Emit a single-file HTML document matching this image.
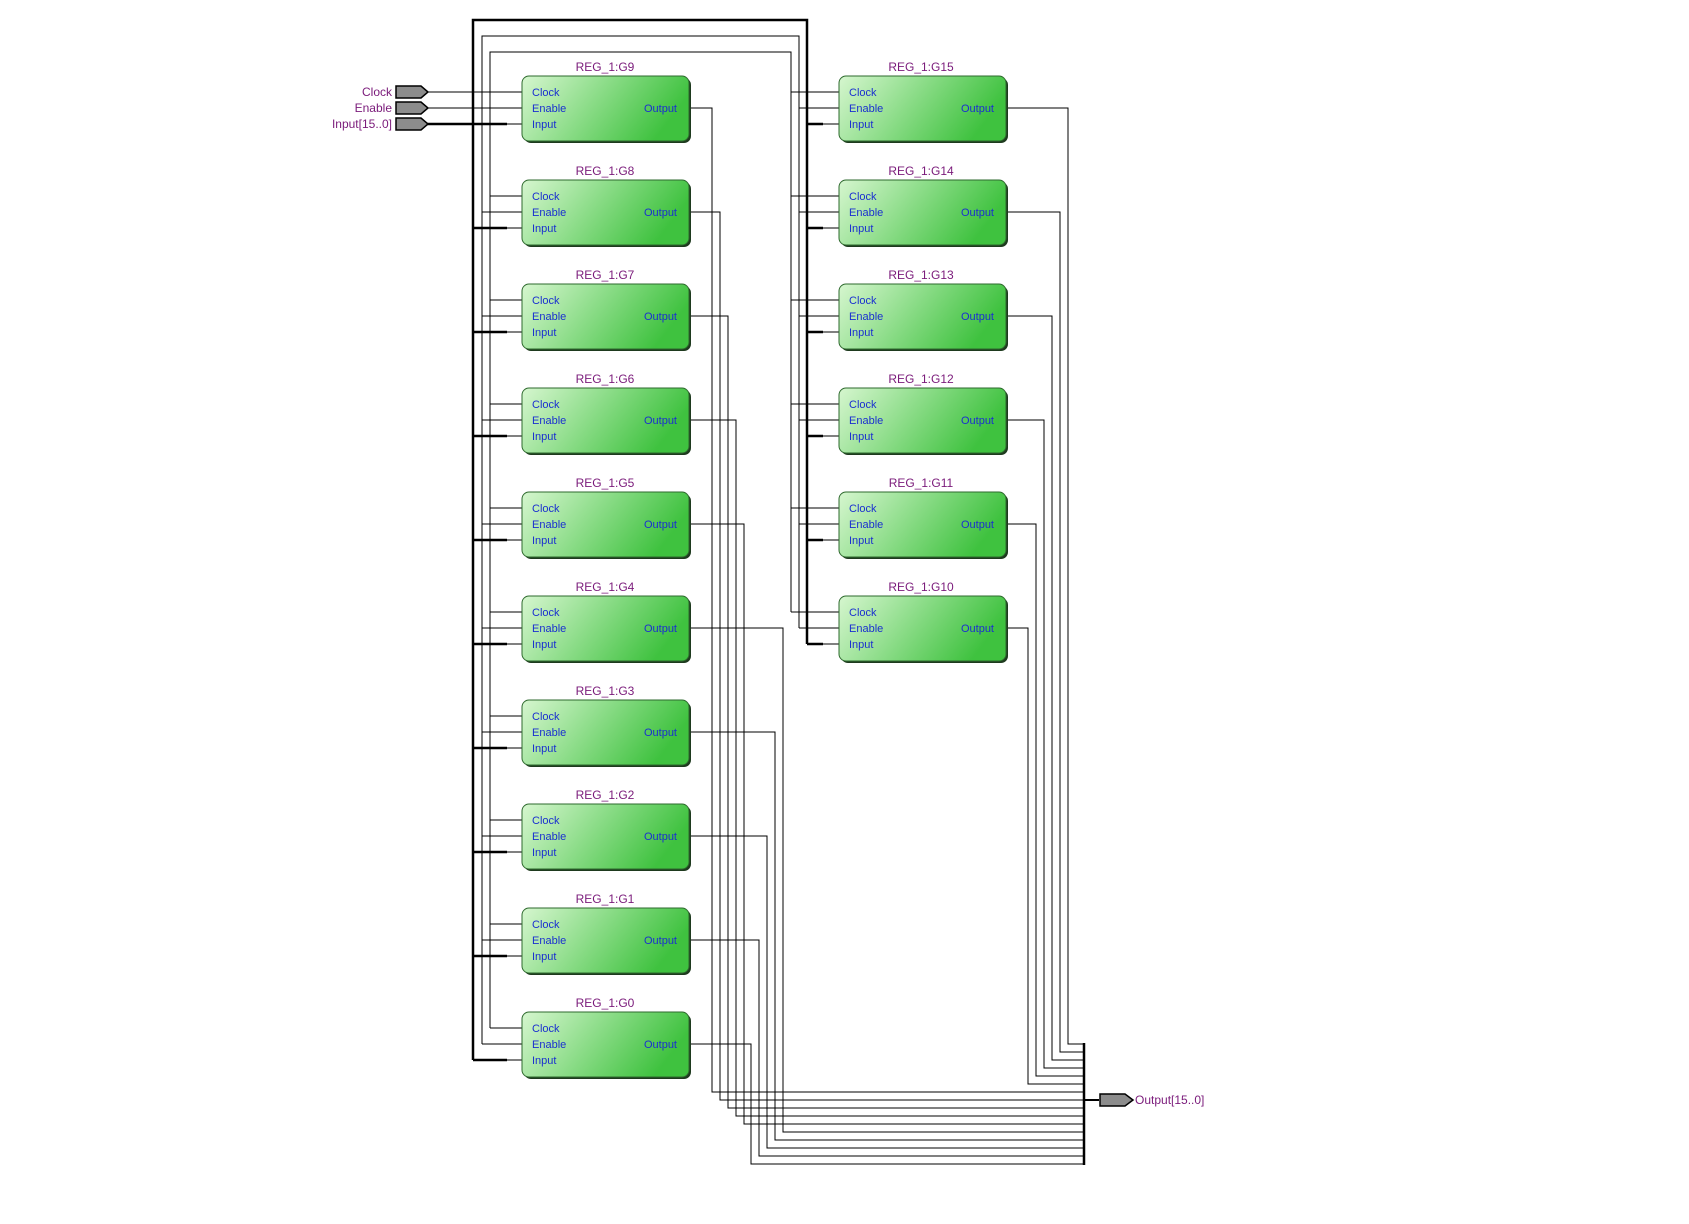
<!DOCTYPE html>
<html><head><meta charset="utf-8"><style>
body{margin:0;background:#fff}
svg{display:block}
.t{font-family:"Liberation Sans",sans-serif;font-size:11px;fill:#1a2fd0}
.h{font-family:"Liberation Sans",sans-serif;font-size:12px;fill:#7a1a7a}
</style></head><body>
<svg width="1689" height="1224" viewBox="0 0 1689 1224" xmlns="http://www.w3.org/2000/svg">
<defs>
<linearGradient id="g" x1="0" y1="0" x2="1" y2="0.3">
<stop offset="0" stop-color="#d6f6cf"/><stop offset="1" stop-color="#3fc23f"/>
</linearGradient>
<g id="box">
<rect x="2" y="2" width="167" height="65" rx="7" fill="#1e3a1e"/>
<rect x="0" y="0" width="167" height="65" rx="7" fill="url(#g)" stroke="#2e6a2e" stroke-width="1"/>
<text class="t" x="10" y="20">Clock</text>
<text class="t" x="10" y="36">Enable</text>
<text class="t" x="10" y="52">Input</text>
<text class="t" x="155" y="36" text-anchor="end">Output</text>
</g>
</defs>
<g fill="none" stroke="#000" stroke-width="1">
<!-- bus loops -->
<path d="M473 1060V20H807V644" stroke-width="2.5"/>
<path d="M482 1044V36H799V628"/>
<path d="M490 1028V52H791V612"/>
<!-- ports -->
<path d="M427 92H522M427 108H522"/>
<path d="M427 124H507" stroke-width="2.5"/><path d="M507 124H522"/>
<!-- left stubs -->
<path d="M490 196H522M482 212H522M507 228H522M490 300H522M482 316H522M507 332H522M490 404H522M482 420H522M507 436H522M490 508H522M482 524H522M507 540H522M490 612H522M482 628H522M507 644H522M490 716H522M482 732H522M507 748H522M490 820H522M482 836H522M507 852H522M490 924H522M482 940H522M507 956H522M490 1028H522M482 1044H522M507 1060H522"/>
<path d="M473 228H507M473 332H507M473 436H507M473 540H507M473 644H507M473 748H507M473 852H507M473 956H507M473 1060H507" stroke-width="2.5"/>
<!-- right stubs -->
<path d="M791 92H839M799 108H839M823 124H839M791 196H839M799 212H839M823 228H839M791 300H839M799 316H839M823 332H839M791 404H839M799 420H839M823 436H839M791 508H839M799 524H839M823 540H839M791 612H839M799 628H839M823 644H839"/>
<path d="M807 124H823M807 228H823M807 332H823M807 436H823M807 540H823M807 644H823" stroke-width="2.5"/>
<!-- left outputs -->
<path d="M689 108H712V1092H1084"/>
<path d="M689 212H720V1100H1084"/>
<path d="M689 316H728V1108H1084"/>
<path d="M689 420H736V1116H1084"/>
<path d="M689 524H744V1124H1084"/>
<path d="M689 628H783V1132H1084"/>
<path d="M689 732H775V1140H1084"/>
<path d="M689 836H767V1148H1084"/>
<path d="M689 940H759V1156H1084"/>
<path d="M689 1044H751V1164H1084"/>
<!-- right outputs -->
<path d="M1006 108H1068V1044H1084"/>
<path d="M1006 212H1060V1052H1084"/>
<path d="M1006 316H1052V1060H1084"/>
<path d="M1006 420H1044V1068H1084"/>
<path d="M1006 524H1036V1076H1084"/>
<path d="M1006 628H1028V1084H1084"/>
<path d="M1084 1043V1165" stroke-width="2.5"/>
<path d="M1084 1100H1099" stroke-width="2"/>
</g>
<!-- input ports -->
<g fill="#8c8c8c" stroke="#000" stroke-width="1.5">
<path d="M396 86H421L428 92L421 98H396Z"/>
<path d="M396 102H421L428 108L421 114H396Z"/>
<path d="M396 118H421L428 124L421 130H396Z"/>
<path d="M1100 1094H1125L1133 1100L1125 1106H1100Z"/>
</g>
<g class="h">
<text class="h" x="392" y="96" text-anchor="end">Clock</text>
<text class="h" x="392" y="112" text-anchor="end">Enable</text>
<text class="h" x="392" y="128" text-anchor="end">Input[15..0]</text>
<text class="h" x="1135" y="1104">Output[15..0]</text>
</g>
<!-- left boxes -->
<use href="#box" x="522" y="76"/><text class="h" x="605" y="71" text-anchor="middle">REG_1:G9</text>
<use href="#box" x="522" y="180"/><text class="h" x="605" y="175" text-anchor="middle">REG_1:G8</text>
<use href="#box" x="522" y="284"/><text class="h" x="605" y="279" text-anchor="middle">REG_1:G7</text>
<use href="#box" x="522" y="388"/><text class="h" x="605" y="383" text-anchor="middle">REG_1:G6</text>
<use href="#box" x="522" y="492"/><text class="h" x="605" y="487" text-anchor="middle">REG_1:G5</text>
<use href="#box" x="522" y="596"/><text class="h" x="605" y="591" text-anchor="middle">REG_1:G4</text>
<use href="#box" x="522" y="700"/><text class="h" x="605" y="695" text-anchor="middle">REG_1:G3</text>
<use href="#box" x="522" y="804"/><text class="h" x="605" y="799" text-anchor="middle">REG_1:G2</text>
<use href="#box" x="522" y="908"/><text class="h" x="605" y="903" text-anchor="middle">REG_1:G1</text>
<use href="#box" x="522" y="1012"/><text class="h" x="605" y="1007" text-anchor="middle">REG_1:G0</text>
<!-- right boxes -->
<use href="#box" x="839" y="76"/><text class="h" x="921" y="71" text-anchor="middle">REG_1:G15</text>
<use href="#box" x="839" y="180"/><text class="h" x="921" y="175" text-anchor="middle">REG_1:G14</text>
<use href="#box" x="839" y="284"/><text class="h" x="921" y="279" text-anchor="middle">REG_1:G13</text>
<use href="#box" x="839" y="388"/><text class="h" x="921" y="383" text-anchor="middle">REG_1:G12</text>
<use href="#box" x="839" y="492"/><text class="h" x="921" y="487" text-anchor="middle">REG_1:G11</text>
<use href="#box" x="839" y="596"/><text class="h" x="921" y="591" text-anchor="middle">REG_1:G10</text>
</svg>
</body></html>
